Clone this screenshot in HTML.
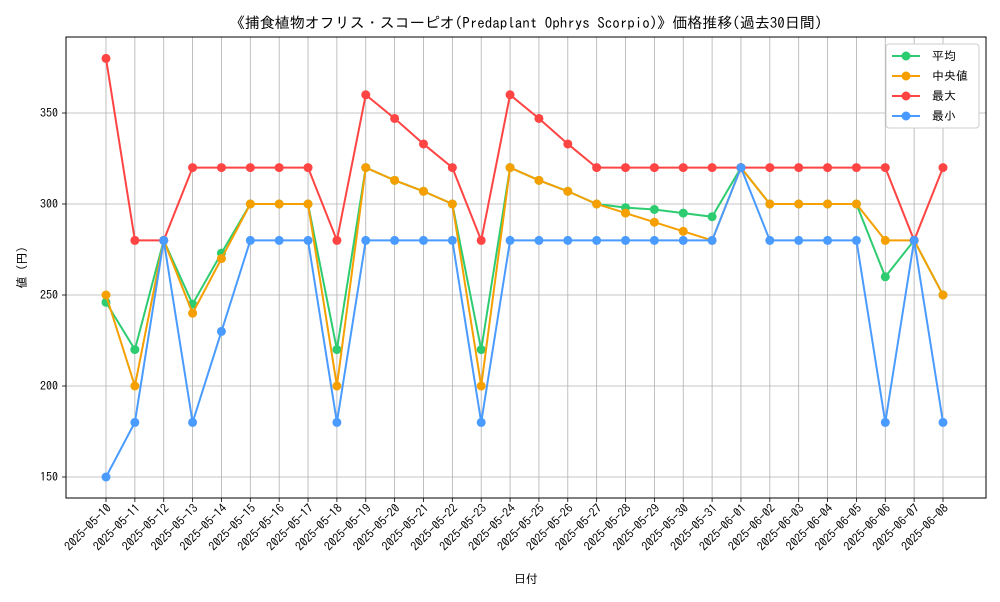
<!DOCTYPE html>
<html><head><meta charset="utf-8"><style>
body{margin:0;background:#fff;font-family:"IPAGothic","Noto Sans CJK JP",sans-serif;}
svg text{font-family:"IPAGothic","Noto Sans CJK JP",monospace;}
</style></head><body>
<svg id="c" width="1000" height="600"></svg>
<script>
const dates=["2025-05-10","2025-05-11","2025-05-12","2025-05-13","2025-05-14","2025-05-15","2025-05-16","2025-05-17","2025-05-18","2025-05-19","2025-05-20","2025-05-21","2025-05-22","2025-05-23","2025-05-24","2025-05-25","2025-05-26","2025-05-27","2025-05-28","2025-05-29","2025-05-30","2025-05-31","2025-06-01","2025-06-02","2025-06-03","2025-06-04","2025-06-05","2025-06-06","2025-06-07","2025-06-08"];
const meanVals=[246,220,280,245,273,300,300,300,220,320,313,307,300,220,320,313,307,300,298,297,295,293,320,300,300,300,300,260,280,250];
const medianVals=[250,200,280,240,270,300,300,300,200,320,313,307,300,200,320,313,307,300,295,290,285,280,320,300,300,300,300,280,280,250];
const maxVals=[380,280,280,320,320,320,320,320,280,360,347,333,320,280,360,347,333,320,320,320,320,320,320,320,320,320,320,320,280,320];
const minVals=[150,180,280,180,230,280,280,280,180,280,280,280,280,180,280,280,280,280,280,280,280,280,320,280,280,280,280,180,280,180];
const yTicks=[150,200,250,300,350];
const NS="http://www.w3.org/2000/svg";
const svg=document.getElementById('c');
const L=66,R=986,T=37,B=498;
const x=i=>106+i*(943-106)/(dates.length-1);
const y=v=>477-(v-150)*91/50;
function el(tag,attrs,parent){const e=document.createElementNS(NS,tag);for(const k in attrs)e.setAttribute(k,attrs[k]);(parent||svg).appendChild(e);return e;}
const grid=el('g',{});


dates.forEach((d,i)=>{
 el('line',{x1:x(i),x2:x(i),y1:T,y2:B,stroke:'#b0b0b0','stroke-width':0.8},grid);
 el('line',{x1:x(i),x2:x(i),y1:B,y2:B+4,stroke:'#000','stroke-width':0.8},grid);
 const t=el('text',{x:0,y:0,'font-size':12,'text-anchor':'end',transform:`translate(${x(i)+6},${B+11}) rotate(-45)`});
 t.textContent=d;
 
 
});
yTicks.forEach(v=>{
 el('line',{x1:L,x2:R,y1:y(v),y2:y(v),stroke:'#b0b0b0','stroke-width':0.8},grid);
 el('line',{x1:L-4,x2:L,y1:y(v),y2:y(v),stroke:'#000','stroke-width':0.8},grid);
 const t=el('text',{x:L-8,y:y(v)+4,'font-size':12,'text-anchor':'end'});
 t.textContent=v;
 
 
});
const series=[["mean",meanVals,"#2ecc71"],["median",medianVals,"#f5a000"],["max",maxVals,"#ff4444"],["min",minVals,"#4a9bff"]];
series.forEach(([n,vals,c])=>{
 const g=el('g',{});
 
 
 el('polyline',{points:vals.map((v,i)=>x(i)+','+y(v)).join(' '),fill:'none',stroke:c,'stroke-width':2},g);
 vals.forEach((v,i)=>{const p=el('circle',{cx:x(i),cy:y(v),r:4.5,fill:c},g);
  
  });
});
el('rect',{x:L,y:T,width:R-L,height:B-T,fill:'none',stroke:'#000','stroke-width':1});
const title=el('text',{x:(L+R)/2,y:28,'font-size':15,'text-anchor':'middle'});
title.textContent="《捕食植物オフリス・スコーピオ(Predaplant Ophrys Scorpio)》価格推移(過去30日間)";


const xl=el('text',{x:(L+R)/2,y:583,'font-size':12,'text-anchor':'middle'});
xl.textContent="日付";


const yl=el('text',{x:0,y:0,'font-size':12,'text-anchor':'middle',transform:`translate(26,${(T+B)/2}) rotate(-90)`});
yl.textContent="値 (円)";


const lg=el('g',{});


el('rect',{x:886,y:44,width:93,height:84,fill:'#fff',stroke:'#ccc',rx:3},lg);
const names=["平均","中央値","最大","最小"];
series.forEach(([n,v,c],i)=>{
 const yy=56+i*20;
 el('line',{x1:892,x2:920,y1:yy,y2:yy,stroke:c,'stroke-width':2},lg);
 el('circle',{cx:906,cy:yy,r:4.5,fill:c},lg);
 const t=el('text',{x:932,y:yy+4,'font-size':12},lg);
 t.textContent=names[i];
 
 
});
</script>
</body></html>
